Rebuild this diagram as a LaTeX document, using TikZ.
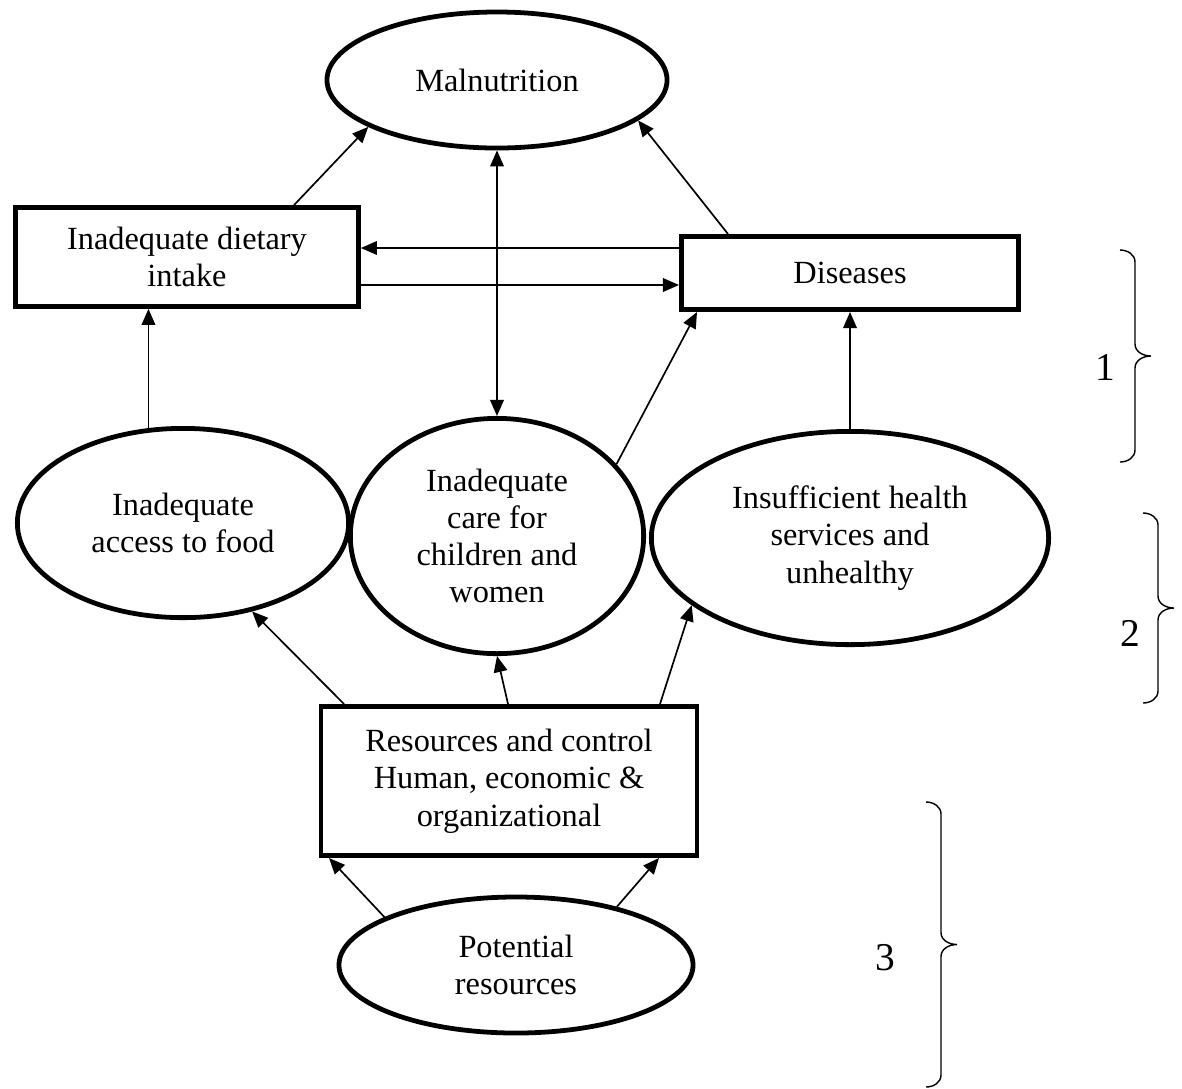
\documentclass[tikz,border=0pt]{standalone}
\usepackage{fontspec}
\setmainfont{Liberation Serif}
\usetikzlibrary{shapes.geometric,arrows.meta}

\begin{document}
\begin{tikzpicture}[
    x = 0.025cm, y = -0.025cm,
    every node/.style = {align=center, font=\fontsize{23}{26.5}\selectfont},
    box/.style = {draw, rectangle, line width=3.4pt, inner sep=0pt},
    oval/.style = {draw, ellipse, line width=3.4pt, inner sep=0pt},
    arr/.style = {-{Triangle[length=4mm,width=3.4mm]}, line width=1.2pt},
    dbl/.style = {{Triangle[length=4mm,width=3.4mm]}-{Triangle[length=4mm,width=3.4mm]}, line width=1.2pt},
    brk/.style = {line width=1pt},
    num/.style = {font=\fontsize{28}{32}\selectfont}
    ]
    \useasboundingbox (0,0) rectangle (1182,1088);
    \node[oval, minimum width=8.5cm, minimum height=3.4cm] (maln) at (497,80) {Malnutrition};
    \node[box, minimum width=8.575cm, minimum height=2.475cm] (diet) at (187,257) {Inadequate dietary\\intake};
    \node[box, minimum width=8.43cm, minimum height=1.83cm] (dis) at (850,273) {Diseases};
    \node[oval, minimum width=8.28cm, minimum height=4.73cm] (access) at (183,523) {Inadequate\\access to food};
    \node[oval, minimum width=7.33cm, minimum height=5.88cm] (care) at (497,536) {Inadequate\\care for\\children and\\women};
    \node[oval, minimum width=9.93cm, minimum height=5.33cm] (health) at (850,538) {Insufficient health\\services and\\unhealthy};
    \node[box, minimum width=9.4cm, minimum height=3.73cm] (res) at (509,781) {Resources and control\\Human, economic \&\\organizational};
    \node[oval, minimum width=8.85cm, minimum height=3.4cm] (pot) at (516,965) {Potential\\resources};

    \draw[arr] (diet.north -| 294,0) -- (maln.200);
    \draw[arr] (dis.north -| 728,0) -- (maln.344);
    \draw[arr] (dis.west |- 0,248) -- (diet.east |- 0,248);
    \draw[arr] (diet.east |- 0,285) -- (dis.west |- 0,285);
    \draw[dbl] (maln.south) -- (care.north);
    \draw[arr] (care.31) -- (dis.south -| 697,0);
    \draw[arr] (health.north) -- (dis.south);
    \draw[arr] (access.110) -- (diet.south -| access.110);
    \draw[arr] (res.north -| 344,0) -- (access.308);
    \draw[arr] (res.north -| 508,0) -- (care.south);
    \draw[arr] (res.north -| 660,0) -- (health.203);
    \draw[arr] (pot.160) -- (res.south -| 329,0);
    \draw[arr] (pot.30) -- (res.south -| 659,0);

    \foreach \x/\t/\b in {1135/250/462, 1158/513/703, 941/802/1087}
        \draw[brk] (\x-15,\t) to[out=0,in=90] (\x,\t+12) -- (\x,{(\t+\b)/2-12})
            to[out=-90,in=180] (\x+16,{(\t+\b)/2}) to[out=180,in=90] (\x,{(\t+\b)/2+12})
            -- (\x,\b-12) to[out=-90,in=0] (\x-15,\b);
    \node[num] (one) at (1105,367) {1};
    \node[num] (two) at (1130,633) {2};
    \node[num] (three) at (885,958) {3};
\end{tikzpicture}
\end{document}
